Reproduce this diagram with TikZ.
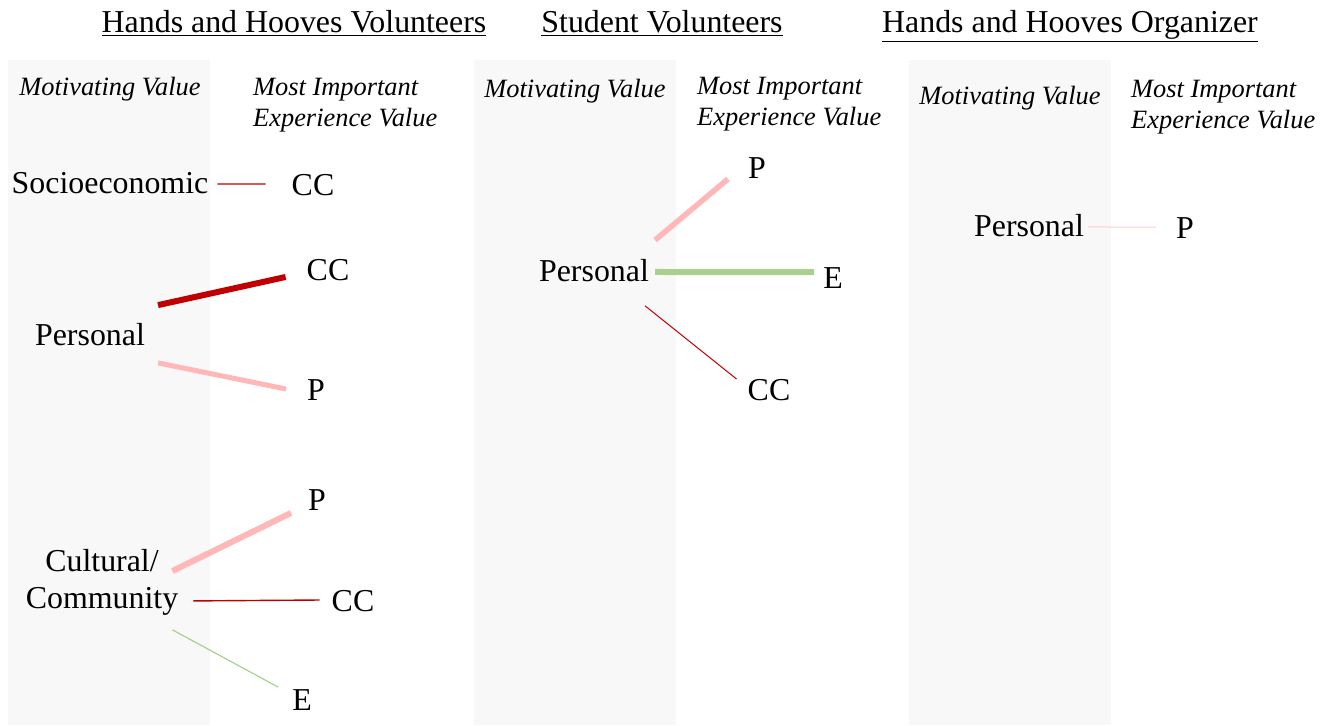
\documentclass[tikz,border=0pt]{standalone}
\usepackage{fontspec}
\setmainfont{Liberation Serif}
\usepackage{tikz}
\definecolor{bandgray}{HTML}{F8F8F8}
\definecolor{darkred}{HTML}{C00000}
\definecolor{softpink}{HTML}{FFB7B7}
\definecolor{softgreen}{HTML}{A9D18E}
\tikzstyle{band} = [fill=bandgray, draw=none]
\tikzstyle{val} = [font=\fontsize{32}{37}\selectfont, inner sep=0pt, align=center]
\tikzstyle{head} = [font=\fontsize{26.5}{31}\selectfont\itshape, inner sep=0pt, align=left]
\tikzstyle{title} = [font=\fontsize{32}{37}\selectfont, inner sep=0pt, anchor=base]
\tikzstyle{heavy} = [line width=6bp]
\tikzstyle{light} = [line width=1.4bp]

\begin{document}
\begin{tikzpicture}[x=1bp, y=-1bp]
                \useasboundingbox (0,0) rectangle (1337,725);
                % background bands
                \fill[band] (8,60) rectangle (210,725);
                \fill[band] (474,60) rectangle (676,725);
                \fill[band] (909,60) rectangle (1111,725);
                % titles
                \node[title] (t1) at (294,33) {\underline{Hands and Hooves Volunteers}};
                \node[title] (t2) at (662,33) {\underline{Student Volunteers}};
                \node[title] (t3) at (1070,33) {\underline{Hands and Hooves Organizer}};
                % column heads
                \node[head] (mv1) at (110,89) {Motivating Value};
                \node[head, anchor=west] (ev1) at (253,105) {Most Important\\Experience Value};
                \node[head] (mv2) at (575,91) {Motivating Value};
                \node[head, anchor=west] (ev2) at (697,104) {Most Important\\Experience Value};
                \node[head] (mv3) at (1010,98) {Motivating Value};
                \node[head, anchor=west] (ev3) at (1131,107) {Most Important\\Experience Value};
                % panel 1
                \node[val] (soc) at (110,183) {Socioeconomic};
                \node[val] (cc1) at (313,185) {CC};
                \node[val] (pers1) at (90,335) {Personal};
                \node[val] (cc2) at (328,270) {CC};
                \node[val] (p1) at (316,390) {P};
                \node[val] (cult) at (102,582) {Cultural/\\Community};
                \node[val] (p2) at (317,500) {P};
                \node[val] (cc3) at (353,601) {CC};
                \node[val] (e1) at (302,700) {E};
                \draw[light, darkred] ([xshift=9, yshift=-1]soc.east) -- ([xshift=-26, yshift=1]cc1.west);
                \draw[heavy, darkred] ([xshift=13, yshift=30]pers1.east) -- ([xshift=-21, yshift=-7]cc2.west);
                \draw[line width=5bp, softpink] ([xshift=13, yshift=-28]pers1.east) -- ([xshift=-21, yshift=1]p1.west);
                \draw[heavy, softpink] ([xshift=-6, yshift=11]cult.east) -- ([xshift=-17, yshift=-13]p2.west);
                \draw[light, darkred] ([xshift=15, yshift=-19]cult.east) -- ([xshift=-12, yshift=1]cc3.west);
                \draw[line width=1.2bp, softgreen] ([xshift=-6, yshift=-48]cult.east) -- ([xshift=-14, yshift=13]e1.west);
                % panel 2
                \node[val] (pers2) at (594,271) {Personal};
                \node[val] (p3) at (757,168) {P};
                \node[val] (e2) at (833,278) {E};
                \node[val] (cc4) at (769,390) {CC};
                \draw[line width=5.5bp, softpink] ([xshift=6, yshift=31]pers2.east) -- ([xshift=-20, yshift=-11]p3.west);
                \draw[heavy, softgreen] ([xshift=6, yshift=-1]pers2.east) -- ([xshift=-9, yshift=6]e2.west);
                \draw[line width=1bp, darkred] ([xshift=-4, yshift=-35]pers2.east) -- ([xshift=-11, yshift=11]cc4.west);
                % panel 3
                \node[val] (pers3) at (1029,226) {Personal};
                \node[val] (p4) at (1185,228) {P};
                \draw[line width=1bp, softpink!70] ([xshift=4, yshift=-1]pers3.east) -- ([xshift=-20, yshift=1]p4.west);
            \end{tikzpicture}
\end{document}
